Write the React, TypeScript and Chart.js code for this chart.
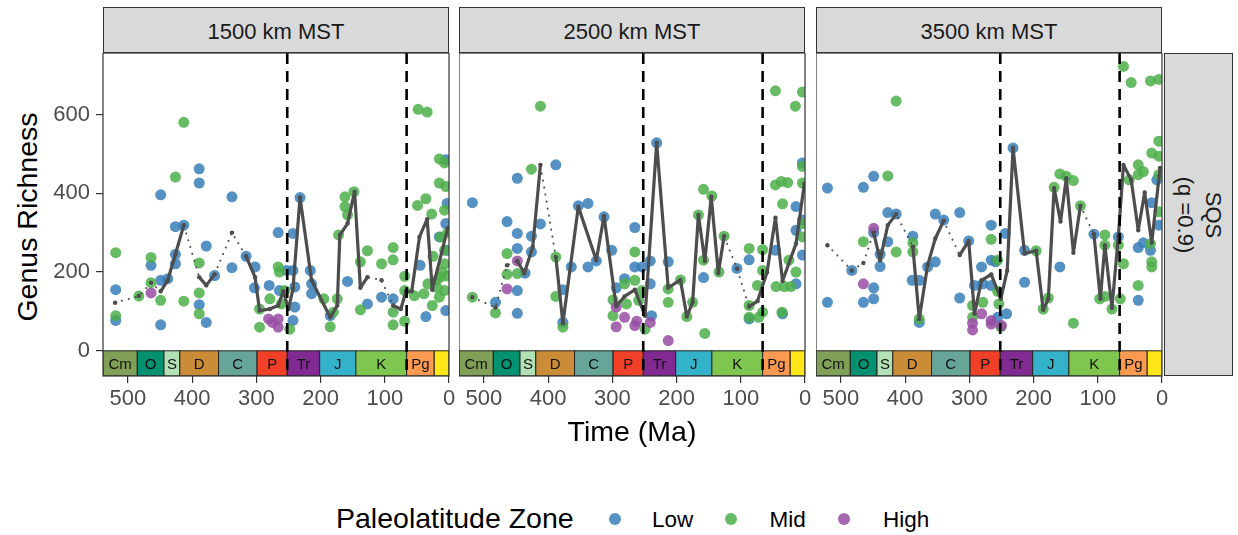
import React, { useEffect, useRef } from "react";
import { Chart, registerables } from "chart.js";

Chart.register(...registerables);

type Pt = [number, number];
type TrendPt = Pt | null;

// ---------- text ----------
const panelTitles = ["1500 km MST", "2500 km MST", "3500 km MST"];
const rowStripLines = ["SQS", "(q =0.9)"];
const yAxisTitle = "Genus Richness";
const xAxisTitle = "Time (Ma)";
const legendTitle = "Paleolatitude Zone";
const zoneNames = ["Low", "Mid", "High"];
const zoneColors = ["rgba(55,126,184,0.85)", "rgba(77,175,74,0.85)", "rgba(152,78,163,0.85)"];

// ---------- axes ----------
const xTickValues = [500, 400, 300, 200, 100, 0];
const yTickValues = [0, 200, 400, 600];
const xRange = [0, 538.8];
const yRange = [-64, 756];

// ---------- geologic periods ----------
const periodNames = ["Cm", "O", "S", "D", "C", "P", "Tr", "J", "K", "Pg", "Ng"];
const periodStarts = [538.8, 485.4, 443.8, 419.2, 358.9, 298.9, 251.9, 201.4, 145.0, 66.0, 23.03];
const periodEnds = [485.4, 443.8, 419.2, 358.9, 298.9, 251.9, 201.4, 145.0, 66.0, 23.03, 0];
const periodColors = ["#7FA056", "#009270", "#B3E1B6", "#CB8C37", "#67A599", "#F04028", "#812B92", "#34B2C9", "#7FC64E", "#FD9A52", "#FFE619"];
const periodBarTop = 0;
const periodBarBottom = -64;
const extinctionAges = [251.9, 66.0];

// ---------- panel 1: 1500 km MST ----------
const p1Low: Pt[] = [[519,155],[519,77],[464,217],[449,396],[449,66],[449,179],[438,183],[426,315],[426,245],[426,221],[413,319],[389,462],[389,426],[389,117],[378,266],[378,72],[365,191],[338,391],[338,211],[316,240],[302,213],[303,160],[280,166],[266,300],[264,153],[253,204],[243,298],[243,204],[240,162],[240,111],[243,77],[232,389],[216,204],[214,170],[214,145],[185,89],[158,176],[127,119],[105,136],[87,132],[45,217],[36,87],[15,289],[5,323],[5,485],[3,255],[5,102],[3,374]];
const p1Mid: Pt[] = [[519,249],[519,89],[483,139],[464,237],[464,173],[449,128],[426,441],[413,580],[413,126],[389,223],[389,147],[389,94],[295,106],[295,60],[279,132],[266,213],[264,200],[256,153],[248,55],[261,119],[195,132],[185,61],[174,132],[180,98],[172,294],[162,366],[162,391],[158,345],[148,404],[127,254],[138,226],[138,104],[105,221],[87,262],[87,231],[87,98],[87,66],[69,189],[69,153],[69,75],[48,613],[34,606],[49,369],[36,386],[27,347],[54,140],[39,145],[26,115],[15,487],[7,477],[15,426],[5,417],[7,357],[13,289],[7,255],[7,221],[13,187],[20,179],[7,153],[15,136],[33,170],[10,200],[18,160],[3,190],[25,240],[2,300]];
const p1High: Pt[] = [[464,147],[281,81],[266,81],[266,60],[275,72]];
const p1Trend: TrendPt[] = [[520,122],null,[483,139],null,[464,173],null,[449,151],[438,179],[426,245],[413,319],null,[389,187],[378,166],[365,194],null,[338,300],null,[316,240],[302,187],[295,102],[279,106],[266,115],[258,151],[250,106],[243,157],[232,389],[214,179],[185,85],[174,115],[170,294],[158,323],[147,404],[138,160],[127,187],null,[105,179],null,[87,115],[75,106],[67,151],[58,151],[46,289],[34,334],[26,155],[2,311]];

// ---------- panel 2: 2500 km MST ----------
const p2Low: Pt[] = [[518,376],[482,123],[464,328],[448,438],[448,298],[448,260],[448,153],[448,95],[436,197],[426,291],[426,251],[412,322],[388,472],[377,155],[377,72],[364,213],[353,368],[338,374],[338,213],[325,228],[313,340],[301,255],[294,160],[281,183],[265,313],[265,213],[254,213],[241,228],[241,170],[239,89],[231,528],[213,226],[158,186],[106,209],[87,231],[87,81],[35,94],[46,255],[14,366],[4,477],[4,332],[14,306],[4,243],[14,170]];
const p2Mid: Pt[] = [[518,136],[482,96],[464,247],[464,194],[448,196],[426,461],[412,621],[388,238],[388,138],[377,60],[299,129],[299,89],[281,170],[278,119],[265,251],[265,179],[259,128],[254,153],[249,55],[213,157],[213,123],[194,180],[184,87],[175,123],[166,345],[158,410],[158,230],[156,44],[145,393],[134,200],[126,291],[87,260],[87,115],[87,85],[72,85],[66,257],[66,204],[66,98],[74,166],[46,660],[4,657],[15,621],[46,421],[37,430],[27,427],[35,373],[36,98],[25,230],[14,200],[45,163],[32,163],[22,163],[4,468],[4,426],[4,323],[4,289]];
const p2High: Pt[] = [[448,228],[464,157],[294,111],[294,61],[281,85],[265,64],[262,75],[241,72],[213,26]];
const p2Trend: TrendPt[] = [[518,136],null,[482,110],null,[464,217],null,[448,228],[437,197],[424,264],[412,472],null,[388,238],[377,70],[353,366],[325,230],[313,342],[294,113],[281,138],[265,155],[249,89],[231,528],[213,160],[194,180],[184,87],[175,123],[166,345],[156,228],[146,391],[135,197],[126,291],null,[106,209],null,[87,112],[74,126],[59,200],[46,338],[35,177],[14,272],[1,424]];

// ---------- panel 3: 3500 km MST ----------
const p3Low: Pt[] = [[521,413],[521,123],[483,204],[465,415],[465,123],[449,443],[449,300],[449,160],[449,132],[439,245],[439,214],[427,351],[427,277],[414,347],[388,291],[389,179],[378,179],[378,72],[365,213],[353,347],[353,226],[340,332],[315,351],[315,134],[301,279],[292,166],[281,213],[279,170],[266,319],[266,230],[266,166],[259,226],[256,85],[244,298],[242,94],[232,515],[214,255],[214,174],[159,213],[106,296],[68,289],[37,262],[37,128],[16,376],[8,434],[5,319],[29,274],[18,255]];
const p3Mid: Pt[] = [[465,277],[427,444],[414,634],[414,251],[388,274],[388,251],[378,81],[295,115],[295,85],[279,123],[266,283],[256,230],[256,151],[254,119],[251,61],[196,254],[185,106],[177,134],[168,415],[159,449],[149,443],[138,432],[127,368],[138,70],[97,132],[89,138],[89,294],[89,268],[78,106],[68,268],[65,132],[60,221],[60,722],[48,681],[18,685],[5,689],[51,434],[37,472],[37,447],[29,455],[16,502],[5,532],[5,494],[5,447],[5,353],[18,272],[16,226],[16,213],[37,166]];
const p3High: Pt[] = [[449,311],[465,170],[295,70],[295,53],[281,94],[266,77],[266,68],[250,64]];
const p3Trend: TrendPt[] = [[521,268],null,[483,204],null,[465,223],null,[449,300],[439,230],[427,319],[414,347],null,[388,264],[378,81],[365,217],[353,285],[340,330],null,[315,243],[301,279],[292,94],[281,179],[266,194],[251,132],[241,204],[232,515],[214,247],[196,254],[185,104],[177,132],[168,413],[158,328],[149,438],[138,249],[127,368],null,[106,296],[96,132],[89,268],[78,109],[68,289],[60,472],[48,434],[37,306],[27,402],[16,274],[3,464]];

const panelLow = [p1Low, p2Low, p3Low];
const panelMid = [p1Mid, p2Mid, p3Mid];
const panelHigh = [p1High, p2High, p3High];
const panelTrend = [p1Trend, p2Trend, p3Trend];

// ---------- layout ----------
const FONT = "'Liberation Sans', Arial, Helvetica, sans-serif";
const PANEL_LEFTS = [103, 459, 816];
const PANEL_W = 346;
const PANEL_TOP = 53;
const PANEL_H = 323;
const Y_AXIS_W = 60;
const X_AXIS_H = 40;
const PAD_R = 16;
const LINE_COLOR = "#4D4D4D";

const decorPlugin = {
  id: "panelDecor",
  beforeDatasetsDraw(chart: any) {
    const { ctx, chartArea, scales } = chart;
    const x = scales.x;
    const y = scales.y;
    ctx.save();
    ctx.beginPath();
    ctx.rect(chartArea.left, chartArea.top, chartArea.right - chartArea.left, chartArea.bottom - chartArea.top);
    ctx.clip();
    const top = y.getPixelForValue(periodBarTop);
    const bottom = y.getPixelForValue(periodBarBottom);
    ctx.font = `15px ${FONT}`;
    ctx.textAlign = "center";
    ctx.textBaseline = "middle";
    periodNames.forEach((name, i) => {
      const x0 = x.getPixelForValue(periodStarts[i]);
      const x1 = x.getPixelForValue(periodEnds[i]);
      ctx.fillStyle = periodColors[i];
      ctx.fillRect(x0, top, x1 - x0, bottom - top);
      ctx.strokeStyle = "#222222";
      ctx.lineWidth = 1;
      ctx.strokeRect(x0, top, x1 - x0, bottom - top);
      const w = ctx.measureText(name).width;
      if (w + 3 < x1 - x0) {
        ctx.fillStyle = "#111111";
        ctx.fillText(name, (x0 + x1) / 2, (top + bottom) / 2 + 1);
      }
    });
    ctx.restore();
  },
  afterDatasetsDraw(chart: any) {
    const { ctx, chartArea, scales } = chart;
    const x = scales.x;
    ctx.save();
    ctx.strokeStyle = "#000000";
    ctx.lineWidth = 2.6;
    ctx.setLineDash([11, 7]);
    extinctionAges.forEach((age) => {
      const px = x.getPixelForValue(age);
      ctx.beginPath();
      ctx.moveTo(px, chartArea.top);
      ctx.lineTo(px, chartArea.bottom);
      ctx.stroke();
    });
    ctx.setLineDash([]);
    ctx.strokeStyle = "#333333";
    ctx.lineWidth = 1.2;
    ctx.strokeRect(chartArea.left, chartArea.top, chartArea.right - chartArea.left, chartArea.bottom - chartArea.top);
    ctx.restore();
  },
};

function toXY(pts: Pt[]) {
  return pts.map((p) => ({ x: p[0], y: p[1] }));
}

function Panel({ index }: { index: number }) {
  const ref = useRef<HTMLCanvasElement>(null);
  const showY = index === 0;
  const padL = showY ? Y_AXIS_W : 0;
  const cw = padL + PANEL_W + PAD_R;
  const ch = PANEL_H + X_AXIS_H;

  useEffect(() => {
    const trend = panelTrend[index];
    const solid: any[] = [];
    let lastX = 0;
    trend.forEach((p) => {
      if (p) {
        lastX = p[0];
        solid.push({ x: p[0], y: p[1] });
      } else {
        solid.push({ x: lastX, y: null });
      }
    });
    const dotted = trend.filter((p): p is Pt => p !== null).map((p) => ({ x: p[0], y: p[1] }));
    const pointSets = [panelLow[index], panelMid[index], panelHigh[index]];

    const chart = new Chart(ref.current!, {
      type: "scatter",
      data: {
        datasets: [
          {
            type: "line",
            label: "trend",
            data: solid,
            borderColor: LINE_COLOR,
            borderWidth: 3.2,
            pointRadius: 0,
            spanGaps: false,
            fill: false,
            borderJoinStyle: "round",
            borderCapStyle: "round",
            order: 0,
            clip: 0,
          } as any,
          {
            type: "line",
            label: "trend-gaps",
            data: dotted,
            borderColor: LINE_COLOR,
            borderWidth: 2,
            borderDash: [0.1, 7],
            borderCapStyle: "round",
            pointRadius: 2.2,
            pointBackgroundColor: LINE_COLOR,
            pointBorderWidth: 0,
            fill: false,
            order: 1,
            clip: 0,
          } as any,
          ...zoneNames.map((z, k) => ({
            label: z,
            data: toXY(pointSets[k]),
            backgroundColor: zoneColors[k],
            borderWidth: 0,
            pointRadius: 5.5,
            pointBorderWidth: 0,
            order: 4 - k + 1,
            clip: 0,
          })) as any,
        ],
      },
      options: {
        animation: false,
        responsive: false,
        events: [],
        layout: { autoPadding: false, padding: { left: 0, right: PAD_R, top: 0, bottom: 0 } },
        plugins: { legend: { display: false }, tooltip: { enabled: false } },
        scales: {
          x: {
            type: "linear",
            min: xRange[0],
            max: xRange[1],
            reverse: true,
            afterBuildTicks: (s: any) => {
              s.ticks = xTickValues.map((v) => ({ value: v }));
            },
            afterFit: (s: any) => {
              s.height = X_AXIS_H;
              s.paddingLeft = 0;
              s.paddingRight = 0;
            },
            ticks: {
              font: { family: FONT, size: 22 },
              color: "#4D4D4D",
              padding: 3,
              maxRotation: 0,
              autoSkip: false,
              callback: (v: any) => String(v),
            },
            grid: { display: true, drawOnChartArea: false, drawTicks: true, tickLength: 7, color: "#333333", lineWidth: 1.2 },
            border: { display: false },
          },
          y: {
            type: "linear",
            display: showY,
            min: yRange[0],
            max: yRange[1],
            afterBuildTicks: (s: any) => {
              s.ticks = yTickValues.map((v) => ({ value: v }));
            },
            afterFit: (s: any) => {
              if (showY) s.width = Y_AXIS_W;
              s.paddingTop = 0;
              s.paddingBottom = 0;
            },
            ticks: {
              font: { family: FONT, size: 22 },
              color: "#4D4D4D",
              padding: 6,
              autoSkip: false,
              callback: (v: any) => String(v),
            },
            grid: { display: true, drawOnChartArea: false, drawTicks: true, tickLength: 7, color: "#333333", lineWidth: 1.2 },
            border: { display: false },
          },
        },
      } as any,
      plugins: [decorPlugin],
    });
    return () => chart.destroy();
  }, [index]);

  return (
    <canvas
      ref={ref}
      width={cw}
      height={ch}
      style={{ position: "absolute", left: PANEL_LEFTS[index] - padL, top: PANEL_TOP, width: cw, height: ch, display: "block" }}
    />
  );
}

export default function App() {
  return (
    <div
      style={{
        position: "absolute",
        left: 0,
        top: 0,
        width: 1238,
        height: 535,
        background: "#ffffff",
        overflow: "hidden",
        fontFamily: FONT,
      }}
    >
      {panelTitles.map((t, i) => (
        <div
          key={"strip" + i}
          style={{
            position: "absolute",
            left: PANEL_LEFTS[i],
            top: 7,
            width: PANEL_W,
            height: 46,
            boxSizing: "border-box",
            border: "1.2px solid #333333",
            background: "#D9D9D9",
            display: "flex",
            alignItems: "center",
            justifyContent: "center",
            paddingTop: 3,
            fontSize: 22,
            color: "#1A1A1A",
            whiteSpace: "nowrap",
          }}
        >
          {t}
        </div>
      ))}
      <div
        style={{
          position: "absolute",
          left: 1164,
          top: PANEL_TOP,
          width: 69,
          height: PANEL_H,
          boxSizing: "border-box",
          border: "1.2px solid #333333",
          background: "#D9D9D9",
        }}
      >
        <div
          style={{
            position: "absolute",
            left: "50%",
            top: "50%",
            transform: "translate(-50%, -50%) rotate(90deg)",
            fontSize: 22,
            lineHeight: "28px",
            color: "#1A1A1A",
            textAlign: "center",
            whiteSpace: "nowrap",
          }}
        >
          {rowStripLines.map((l, i) => (
            <div key={i}>{l}</div>
          ))}
        </div>
      </div>
      {[0, 1, 2].map((i) => (
        <Panel key={"panel" + i} index={i} />
      ))}
      <div
        style={{
          position: "absolute",
          left: 27,
          top: 217,
          transform: "translate(-50%, -50%) rotate(-90deg)",
          fontSize: 28.5,
          lineHeight: 1,
          color: "#000000",
          whiteSpace: "nowrap",
        }}
      >
        {yAxisTitle}
      </div>
      <div
        style={{
          position: "absolute",
          left: 632,
          top: 431,
          transform: "translate(-50%, -50%)",
          fontSize: 28.5,
          lineHeight: 1,
          color: "#000000",
          whiteSpace: "nowrap",
        }}
      >
        {xAxisTitle}
      </div>
      <div
        style={{
          position: "absolute",
          left: 336,
          top: 504,
          fontSize: 28.5,
          lineHeight: 1,
          color: "#000000",
          whiteSpace: "nowrap",
        }}
      >
        {legendTitle}
      </div>
      {zoneNames.map((z, k) => {
        const dotX = [614.5, 731, 844][k];
        const textX = [652, 769.5, 883][k];
        return (
          <React.Fragment key={"leg" + k}>
            <div
              style={{
                position: "absolute",
                left: dotX - 6,
                top: 519 - 6,
                width: 12,
                height: 12,
                borderRadius: "50%",
                background: zoneColors[k],
              }}
            />
            <div
              style={{
                position: "absolute",
                left: textX,
                top: 509,
                fontSize: 22.5,
                lineHeight: 1,
                color: "#000000",
                whiteSpace: "nowrap",
              }}
            >
              {z}
            </div>
          </React.Fragment>
        );
      })}
    </div>
  );
}
